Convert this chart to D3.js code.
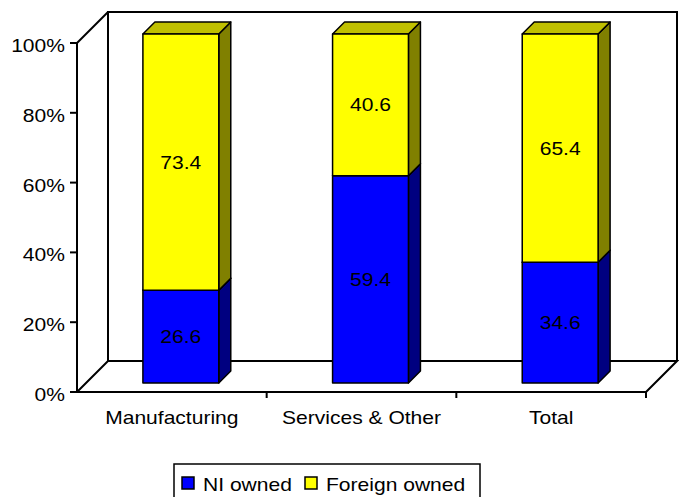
<!DOCTYPE html>
<html>
<head>
<meta charset="utf-8">
<script src="https://cdn.jsdelivr.net/npm/d3@7"></script>
<style>
  html, body { margin: 0; padding: 0; background: #fff; }
  svg { display: block; }
  text { font-family: "Liberation Sans", Arial, sans-serif; fill: #000; }
</style>
</head>
<body>
<svg id="chart" width="679" height="497"></svg>
<script>
// Ownership share by sector (%)
const categories = ["Manufacturing", "Services & Other", "Total"];
const niOwned = [26.6, 59.4, 34.6];
const foreignOwned = [73.4, 40.6, 65.4];
const seriesNames = ["NI owned", "Foreign owned"];
const yTickValues = [0, 20, 40, 60, 80, 100];

const series = [
  { name: seriesNames[0], values: niOwned, front: "#0000ff", side: "#000080", top: "#0000c0" },
  { name: seriesNames[1], values: foreignOwned, front: "#ffff00", side: "#808000", top: "#c0c000" }
];

const svg = d3.select("#chart");
const W = 679, H = 497;

// 3D frame: front plane and depth offset
const depth = 31;          // total floor depth (px, diagonal 45°)
const barOffset = 9;       // distance of bar front face from the front plane
const barDepth = 12;       // bar thickness
const x = d3.scaleBand().domain(categories).range([77, 646]).paddingInner(0).paddingOuter(0);
const y = d3.scaleLinear().domain([0, 100]).range([392, 43]);
const barWidth = x.bandwidth() * 0.4;
const stretch = 1.17;      // text is drawn slightly wide

function txt(g, str, tx, ty, anchor, size) {
  return g.append("text")
    .attr("transform", `translate(${tx},${ty}) scale(${stretch},1)`)
    .attr("text-anchor", anchor)
    .attr("font-size", size)
    .text(str);
}

const frame = svg.append("g").attr("fill", "none").attr("stroke", "#000").attr("stroke-width", 2);
const y0 = y(0), y100 = y(100);
const xL = x.range()[0], xR = x.range()[1];

// back wall
frame.append("path").attr("fill", "#fff")
  .attr("d", `M${xL + depth},${y0 - depth} L${xL + depth},${y100 - depth} L${xR + depth},${y100 - depth} L${xR + depth},${y0 - depth}`);
// side wall top edge
frame.append("line").attr("x1", xL).attr("y1", y100).attr("x2", xL + depth).attr("y2", y100 - depth);
// floor
frame.append("path")
  .attr("d", `M${xL},${y0} L${xL + depth},${y0 - depth} L${xR + depth},${y0 - depth} L${xR},${y0}`);

// bars
const bars = svg.append("g").attr("stroke", "#000").attr("stroke-width", 1.5).attr("stroke-linejoin", "round");
categories.forEach((c, i) => {
  let cum = 0;
  series.forEach((s, si) => {
    const v = s.values[i];
    const xa = x(c) + x.bandwidth() / 2 - barWidth / 2 + barOffset;
    const xb = xa + barWidth;
    const ya = y(cum + v) - barOffset;
    const yb = y(cum) - barOffset;
    const d = barDepth;
    // right side face
    bars.append("path").attr("fill", s.side)
      .attr("d", `M${xb},${yb} L${xb + d},${yb - d} L${xb + d},${ya - d} L${xb},${ya} Z`);
    // top face
    bars.append("path").attr("fill", s.top)
      .attr("d", `M${xa},${ya} L${xa + d},${ya - d} L${xb + d},${ya - d} L${xb},${ya} Z`);
    // front face
    bars.append("rect").attr("fill", s.front)
      .attr("x", xa).attr("y", ya).attr("width", barWidth).attr("height", yb - ya);
    cum += v;
  });
});

// value labels
const labels = svg.append("g");
categories.forEach((c, i) => {
  let cum = 0;
  series.forEach(s => {
    const v = s.values[i];
    const cx = x(c) + x.bandwidth() / 2 + barOffset;
    const cy = (y(cum) + y(cum + v)) / 2 - barOffset;
    txt(labels, v.toFixed(1), cx, cy + 6.5, "middle", 18);
    cum += v;
  });
});

// front axes
const axes = svg.append("g").attr("stroke", "#000").attr("stroke-width", 2);
axes.append("line").attr("x1", xL).attr("y1", y0).attr("x2", xL).attr("y2", y100);
axes.append("line").attr("x1", xL).attr("y1", y0).attr("x2", xR).attr("y2", y0);
yTickValues.forEach(t => {
  axes.append("line").attr("x1", xL - 7).attr("x2", xL).attr("y1", y(t)).attr("y2", y(t));
});
categories.forEach(c => {
  const xt = x(c) + x.bandwidth();
  axes.append("line").attr("x1", xt).attr("x2", xt).attr("y1", y0).attr("y2", y0 + 6);
});

const ticks = svg.append("g");
yTickValues.forEach(t => txt(ticks, t + "%", 65, y(t) + 9, "end", 18));
categories.forEach(c => txt(ticks, c, x(c) + x.bandwidth() / 2, 424, "middle", 18));

// legend
const lg = svg.append("g");
lg.append("rect").attr("x", 174).attr("y", 464).attr("width", 306).attr("height", 40)
  .attr("fill", "#fff").attr("stroke", "#000").attr("stroke-width", 1.5);
const legendItems = [
  { s: series[0], sx: 182, tx: 203 },
  { s: series[1], sx: 305, tx: 326 }
];
legendItems.forEach(it => {
  lg.append("rect").attr("x", it.sx).attr("y", 477).attr("width", 12).attr("height", 12)
    .attr("fill", it.s.front).attr("stroke", "#000").attr("stroke-width", 1.5);
  txt(lg, it.s.name, it.tx, 491, "start", 18);
});
</script>
</body>
</html>
